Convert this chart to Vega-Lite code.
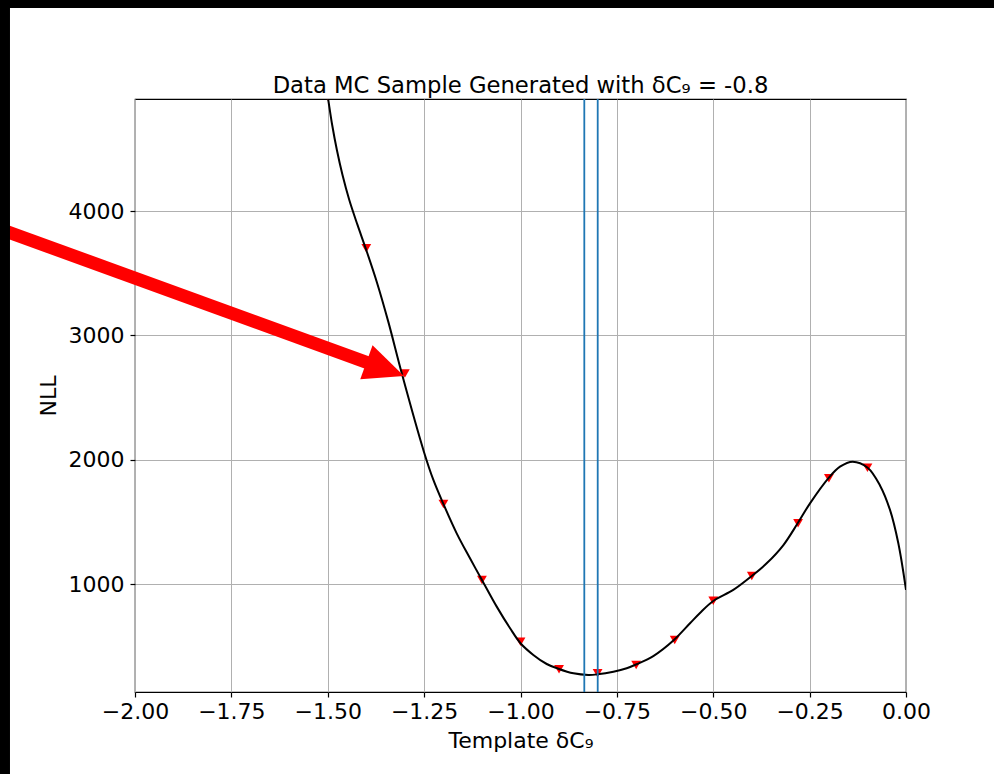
{
  "$schema": "https://vega.github.io/schema/vega-lite/v6.json",
  "width": 771,
  "height": 593,
  "autosize": {"type": "none"},
  "padding": {"left": 135, "top": 99, "right": 88, "bottom": 82},
  "background": "white",
  "title": {
    "text": "Data MC Sample Generated with δC₉ = -0.8",
    "font": "DejaVu Sans",
    "fontSize": 22.7,
    "fontWeight": "normal",
    "color": "black",
    "anchor": "middle",
    "frame": "group",
    "baseline": "alphabetic",
    "offset": -115.5
  },
  "config": {
    "view": {"stroke": "black", "strokeWidth": 1.2},
    "axis": {
      "labelFont": "DejaVu Sans",
      "labelFontSize": 22,
      "labelColor": "black",
      "titleFont": "DejaVu Sans",
      "titleFontSize": 22,
      "titleFontWeight": "normal",
      "titleColor": "black",
      "tickColor": "black",
      "tickSize": 5,
      "tickWidth": 1.2,
      "domain": false,
      "grid": true,
      "gridColor": "#b0b0b0",
      "gridWidth": 1,
      "labelFlush": false,
      "labelOverlap": false
    }
  },
  "layer": [
    {
      "data": {"values": [
        {"x": -1.5, "y": 4920},
        {"x": -1.4, "y": 3700},
        {"x": -1.3, "y": 2695},
        {"x": -1.2, "y": 1646},
        {"x": -1.1, "y": 1035},
        {"x": -1.0, "y": 539},
        {"x": -0.9, "y": 317},
        {"x": -0.8, "y": 285},
        {"x": -0.7, "y": 352},
        {"x": -0.6, "y": 553},
        {"x": -0.5, "y": 869},
        {"x": -0.4, "y": 1067},
        {"x": -0.28, "y": 1491},
        {"x": -0.2, "y": 1852},
        {"x": -0.1, "y": 1937}
      ]},
      "mark": {"type": "point", "shape": "triangle-down", "filled": true, "color": "#ff0000", "size": 96, "opacity": 1, "clip": true},
      "encoding": {
        "x": {"field": "x", "type": "quantitative", "scale": {"domain": [-2, 0], "nice": false, "zero": false},
              "axis": {"title": "Template δC₉", "values": [-2, -1.75, -1.5, -1.25, -1, -0.75, -0.5, -0.25, 0], "format": ".2f", "labelPadding": 4, "titlePadding": 8}},
        "y": {"field": "y", "type": "quantitative", "scale": {"domain": [135, 4900], "nice": false, "zero": false},
              "axis": {"title": "NLL", "values": [1000, 2000, 3000, 4000], "format": "d", "labelPadding": 6, "titlePadding": 8}}
      }
    },
    {
      "data": {"values": [
        {"x": -1.5, "y": 4918},
        {"x": -1.4986, "y": 4892},
        {"x": -1.4885, "y": 4691},
        {"x": -1.4763, "y": 4490},
        {"x": -1.4617, "y": 4289},
        {"x": -1.4441, "y": 4088},
        {"x": -1.4228, "y": 3888},
        {"x": -1.4016, "y": 3700},
        {"x": -1.373, "y": 3432},
        {"x": -1.343, "y": 3111},
        {"x": -1.308, "y": 2696},
        {"x": -1.25, "y": 2060},
        {"x": -1.226, "y": 1839},
        {"x": -1.2, "y": 1646},
        {"x": -1.1655, "y": 1410},
        {"x": -1.131, "y": 1209},
        {"x": -1.1, "y": 1035},
        {"x": -1.0617, "y": 821},
        {"x": -1.027, "y": 647},
        {"x": -1.0, "y": 527},
        {"x": -0.9667, "y": 433},
        {"x": -0.932, "y": 360},
        {"x": -0.902, "y": 322},
        {"x": -0.8626, "y": 285},
        {"x": -0.824, "y": 272},
        {"x": -0.8, "y": 277},
        {"x": -0.759, "y": 298},
        {"x": -0.7245, "y": 326},
        {"x": -0.699, "y": 358},
        {"x": -0.6555, "y": 424},
        {"x": -0.602, "y": 553},
        {"x": -0.5603, "y": 687},
        {"x": -0.5344, "y": 770},
        {"x": -0.5, "y": 866},
        {"x": -0.448, "y": 955},
        {"x": -0.4, "y": 1067},
        {"x": -0.3614, "y": 1169},
        {"x": -0.318, "y": 1316},
        {"x": -0.281, "y": 1491},
        {"x": -0.249, "y": 1651},
        {"x": -0.2016, "y": 1852},
        {"x": -0.1712, "y": 1946},
        {"x": -0.1383, "y": 1986},
        {"x": -0.0994, "y": 1937},
        {"x": -0.0675, "y": 1795},
        {"x": -0.0415, "y": 1598},
        {"x": -0.0199, "y": 1330},
        {"x": 0.0, "y": 955}
      ]},
      "mark": {"type": "line", "color": "black", "strokeWidth": 2, "interpolate": "catmull-rom", "clip": true},
      "encoding": {
        "x": {"field": "x", "type": "quantitative"},
        "y": {"field": "y", "type": "quantitative"}
      }
    },
    {
      "data": {"values": [{"x": -0.8345}, {"x": -0.7997}]},
      "mark": {"type": "rule", "color": "#1f77b4", "strokeWidth": 1.8},
      "encoding": {"x": {"field": "x", "type": "quantitative"}}
    },
    {
      "data": {"values": [{"x": -2.3502, "y": 3855, "x2": -1.351, "y2": 2730}]},
      "mark": {"type": "rule", "color": "#ff0000", "strokeWidth": 13, "strokeCap": "butt", "clip": false},
      "encoding": {
        "x": {"field": "x", "type": "quantitative"},
        "y": {"field": "y", "type": "quantitative"},
        "x2": {"field": "x2"},
        "y2": {"field": "y2"}
      }
    },
    {
      "data": {"values": [{"x": -1.351, "y": 2730}]},
      "mark": {"type": "point", "shape": "M1,0L-1,-0.9L-1,0.9Z", "size": 1600, "angle": 20, "filled": true, "color": "#ff0000", "opacity": 1, "strokeWidth": 0, "clip": false},
      "encoding": {
        "x": {"field": "x", "type": "quantitative"},
        "y": {"field": "y", "type": "quantitative"}
      }
    },
    {
      "data": {"values": [
        {"x": -2.3632, "x2": -2.3243, "y": 5695.5, "y2": -572},
        {"x": -2.3632, "x2": 0.2438, "y": 5695.5, "y2": 5631}
      ]},
      "mark": {"type": "rect", "color": "black", "clip": false},
      "encoding": {
        "x": {"field": "x", "type": "quantitative"},
        "y": {"field": "y", "type": "quantitative"},
        "x2": {"field": "x2"},
        "y2": {"field": "y2"}
      }
    }
  ]
}
